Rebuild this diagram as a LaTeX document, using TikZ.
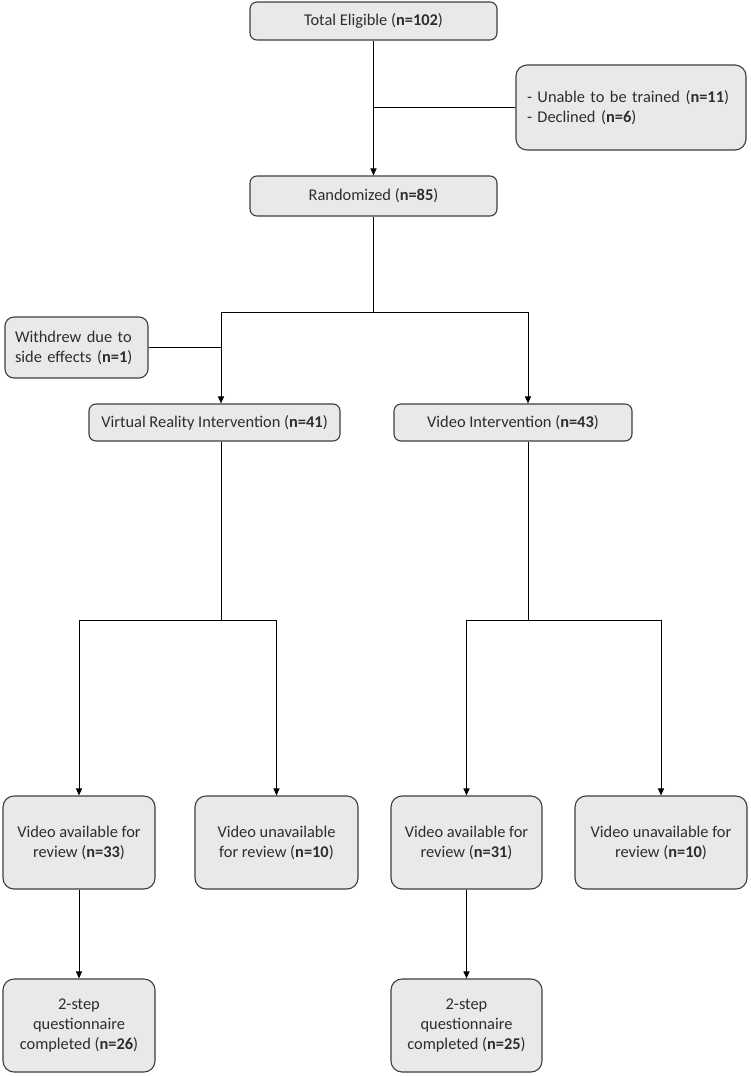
\documentclass[tikz,border=0pt]{standalone}
\usepackage{fontspec}
\setmainfont{Carlito}
\usepackage{tikz}
\usetikzlibrary{arrows.meta,calc}
\definecolor{boxgray}{RGB}{233,233,233}
\definecolor{edgegray}{RGB}{62,62,62}
\definecolor{textgray}{RGB}{45,45,45}
\tikzset{
  wire/.style={black, line width=1pt},
  flow/.style={-{Triangle[length=7pt,width=6pt]}, black, line width=1pt},
  stage/.style={draw=edgegray, line width=1.1pt, fill=boxgray,
                rounded corners=7pt, inner sep=0pt, align=center,
                text=textgray, font=\fontsize{16.4}{20}\selectfont},
  stagetall/.style={stage, rounded corners=11pt},
  sidebox/.style={stagetall, align=left},
}

\begin{document}
\begin{tikzpicture}[x=1pt,y=-1pt]
  \path[use as bounding box] (0,0) rectangle (750,1076);

  \node[stage, minimum width=247pt, minimum height=38pt] (total) at (373.5,21)
    {Total Eligible (\textbf{n=102})};
  \node[sidebox, minimum width=230pt, minimum height=85pt, text width=208pt] (excl)
    at (631,107.5)
    {- Unable to be trained (\textbf{n=11})\\- Declined (\textbf{n=6})};
  \node[stage, minimum width=247pt, minimum height=40pt] (rand) at (373.5,196)
    {Randomized (\textbf{n=85})};
  \draw[flow] (total.south) -- (rand.north);
  \draw[wire] (total.south |- excl.west) -- (excl.west);

  \coordinate (lsplit) at (221,312);
  \coordinate (rsplit) at (528,312);
  \draw[wire] (rand.south) -- (rand.south |- lsplit);
  \draw[wire] (lsplit) -- (rsplit);

  \node[sidebox, minimum width=143pt, minimum height=61pt, text width=123pt,
        rounded corners=9pt] (withdrew) at (76.5,347.5)
    {Withdrew due to\\side effects (\textbf{n=1})};
  \draw[wire] (withdrew.east) -- (withdrew.east -| lsplit);

  \node[stage, minimum width=251pt, minimum height=37pt] (vr) at (214.5,422.5)
    {Virtual Reality Intervention (\textbf{n=41})};
  \node[stage, minimum width=238pt, minimum height=37pt] (vid) at (513,422.5)
    {Video Intervention (\textbf{n=43})};
  \draw[flow] (lsplit) -- (lsplit |- vr.north);
  \draw[flow] (rsplit) -- (rsplit |- vid.north);

  % review availability
  \node[stagetall, minimum width=152pt, minimum height=93pt] (vra) at (79,842.5)
    {Video available for\\review (\textbf{n=33})};
  \node[stagetall, minimum width=163pt, minimum height=93pt] (vru) at (276.5,842.5)
    {Video unavailable\\for review (\textbf{n=10})};
  \node[stagetall, minimum width=151pt, minimum height=93pt] (vida) at (466.5,842.5)
    {Video available for\\review (\textbf{n=31})};
  \node[stagetall, minimum width=172pt, minimum height=93pt] (vidu) at (661,842.5)
    {Video unavailable for\\review (\textbf{n=10})};

  \coordinate (vrsplit) at (221,620);
  \coordinate (vidsplit) at (528,620);
  \draw[wire] (vr.south -| vrsplit) -- (vrsplit);
  \draw[flow] (vrsplit) -| (vra.north);
  \draw[flow] (vrsplit) -| (vru.north);
  \draw[wire] (vid.south -| vidsplit) -- (vidsplit);
  \draw[flow] (vidsplit) -| (vida.north);
  \draw[flow] (vidsplit) -| (vidu.north);

  \node[stagetall, minimum width=152pt, minimum height=93pt] (vrq) at (79,1025.5)
    {2-step\\questionnaire\\completed (\textbf{n=26})};
  \node[stagetall, minimum width=151pt, minimum height=93pt] (vidq) at (466.5,1025.5)
    {2-step\\questionnaire\\completed (\textbf{n=25})};
  \draw[flow] (vra.south) -- (vrq.north);
  \draw[flow] (vida.south) -- (vidq.north);
\end{tikzpicture}
\end{document}
